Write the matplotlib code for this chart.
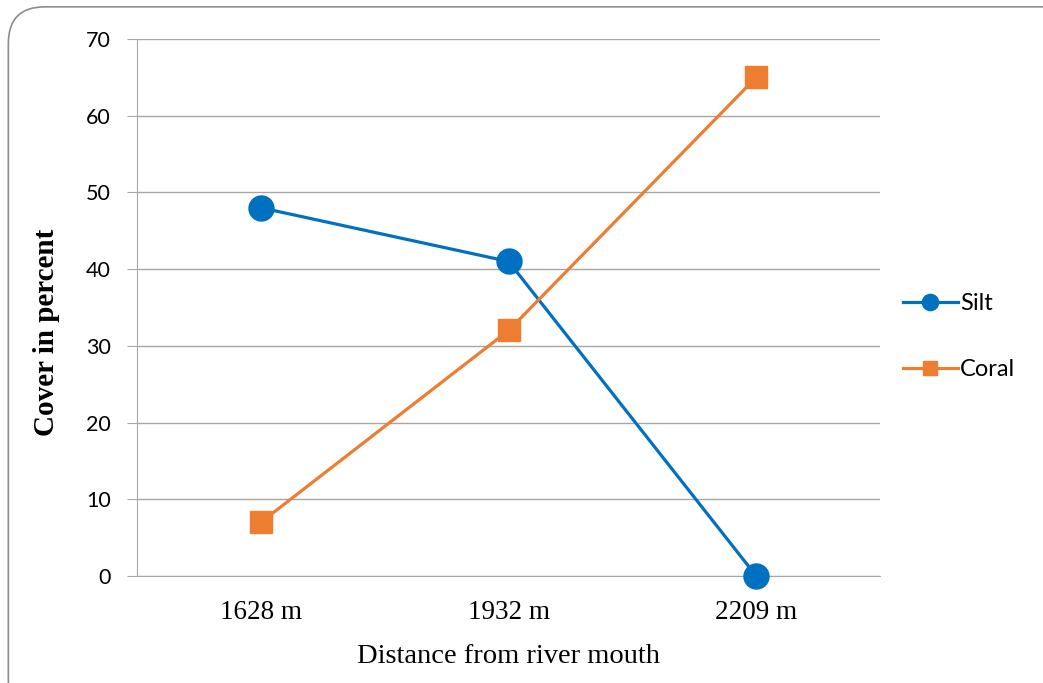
import matplotlib.pyplot as plt
from matplotlib.patches import FancyBboxPatch

# Data
distances = ["1628 m", "1932 m", "2209 m"]
silt = [48, 41, 0]
coral = [7, 32, 65]
y_ticks = [0, 10, 20, 30, 40, 50, 60, 70]

fig = plt.figure(figsize=(10.43, 6.83), dpi=100)
ax = fig.add_axes([0.1314, 0.1567, 0.7124, 0.7862])

# rounded chart border
border = FancyBboxPatch((0.008, -0.05), 1.05, 1.04, boxstyle="round,pad=0,rounding_size=0.035",
                        transform=fig.transFigure, facecolor="none", edgecolor="#8c8c8c",
                        linewidth=1.2, mutation_aspect=1043 / 683)
fig.patches.append(border)

x = range(len(distances))
ax.plot(x, silt, color="#0070C0", linewidth=2.3, marker="o", markersize=18, label="Silt",
        zorder=3, clip_on=False)
ax.plot(x, coral, color="#ED7D31", linewidth=2.3, marker="s", markersize=16, label="Coral",
        zorder=3, clip_on=False)

ax.set_xlim(-0.5, 2.5)
ax.set_ylim(0, 70)
ax.set_yticks(y_ticks)
ax.set_xticks(list(x))
ax.set_xticklabels(distances, fontfamily="Liberation Serif", fontsize=19.5)
for lbl in ax.get_yticklabels():
    lbl.set_fontfamily("Lato")
    lbl.set_fontsize(15.5)

ax.grid(axis="y", color="#a6a6a6", linewidth=1)
ax.set_axisbelow(True)
for s in ["top", "right"]:
    ax.spines[s].set_visible(False)
ax.spines["left"].set_color("#a6a6a6")
ax.spines["bottom"].set_color("#a6a6a6")
ax.tick_params(axis="y", length=7, color="#a6a6a6", pad=12)
ax.tick_params(axis="x", length=0, pad=17)

ax.set_ylabel("Cover in percent", fontfamily="Liberation Serif", fontweight="bold", fontsize=21)
ax.yaxis.set_label_coords(-0.104, 0.454)
ax.set_xlabel("Distance from river mouth", fontfamily="Liberation Serif", fontsize=20.5, labelpad=14)

ax.legend(loc="center left", bbox_to_anchor=(0.845, 0.507), bbox_transform=fig.transFigure,
          frameon=False, markerscale=0.65, handlelength=2.35, handletextpad=0.08,
          labelspacing=1.9, prop={"family": "Lato", "size": 17})

fig.savefig("out.png", dpi=100)
